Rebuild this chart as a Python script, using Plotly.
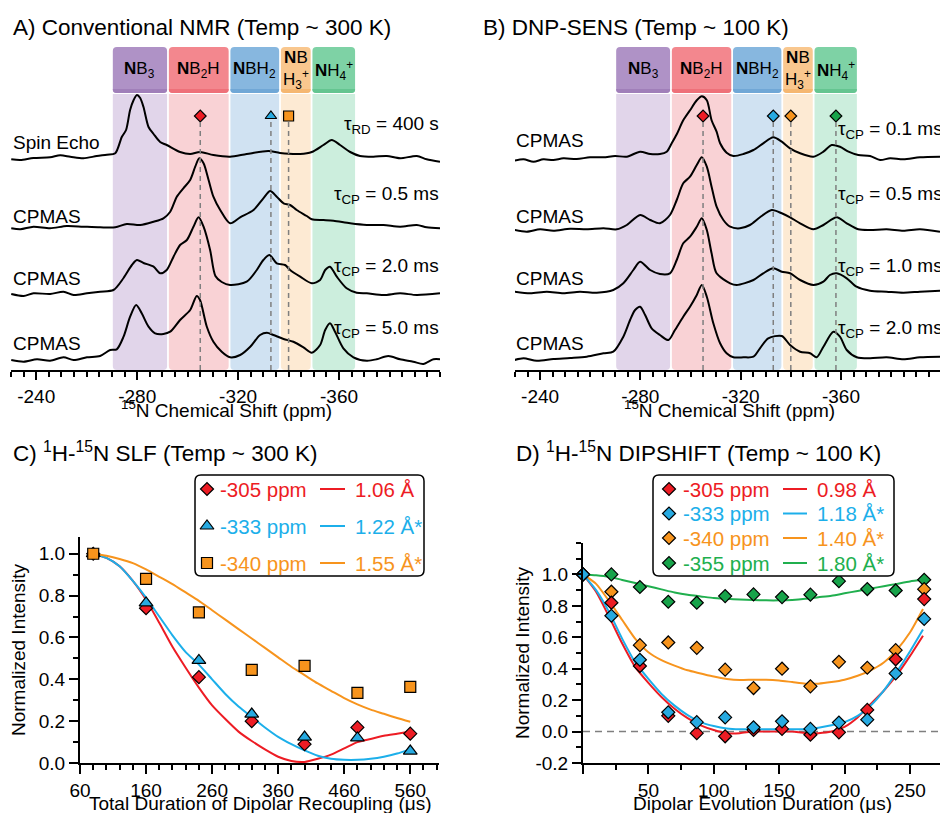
import plotly.graph_objects as go

FONT = "Liberation Sans, Arial, sans-serif"
W, H = 940, 813

RED = "#ED1C24"
BLUE_MK = "#27AAE1"
BLUE = "#1CAFEA"
ORANGE = "#F7941D"
GREEN_MK = "#17A34A"
GREEN = "#20AF4E"

# ---------------- nitrogen environments ----------------
REGION_EDGES = [-270.0, -292.2, -316.6, -336.6, -349.1, -366.7]
REGION_LABELS = ["<b>N</b>B<sub>3</sub>", "<b>N</b>B<sub>2</sub>H", "<b>N</b>BH<sub>2</sub>",
                 "<b>N</b>B<br>H<sub>3</sub><sup>+</sup>", "<b>N</b>H<sub>4</sub><sup>+</sup>"]
HEAD_FILL = ["#AF92C6", "#F3878E", "#87B7DF", "#F9C78E", "#7ED2A5"]
HEAD_EDGE = ["#A07FB9", "#EE7079", "#70A7D6", "#F5B771", "#64C590"]
BAND_FILL = ["#E1D5EA", "#F9D2D5", "#D0E2F2", "#FDEAD3", "#CCEEDD"]

A_PEAKS = [-305, -333, -340]
B_PEAKS = [-305, -333, -340, -358]
SHIFT_TICKS = [-240, -280, -320, -360]

# ---------------- panel A spectra (ppm, intensity) ----------------
A_SE_PPM = [-230.1, -233.7, -238.9, -245.5, -249.5, -253.5, -258.7, -264.0, -268.0, -271.3,
            -273.9, -275.6, -277.2, -278.6, -279.9, -281.2, -282.5, -284.5, -286.5, -289.1,
            -291.7, -297.0, -301.0, -304.9, -310.2, -316.8, -323.4, -332.0, -336.6, -344.6,
            -349.2, -353.8, -357.1, -360.4, -364.4, -368.3, -373.6, -378.9, -384.2, -390.8,
            -394.7, -400.0]
A_SE_INT = [-1.3, -2, 0, 0.7, 2.7, 1.3, -0.3, 2, 3.3, 4.7,
            21, 28, 48, 58, 63, 60, 51, 31, 24, 16,
            13, 6, 4, 6, 3, 1.3, 4, 7, 5, 4,
            6, 13, 18, 13, 6, 2, 1.3, 2, -0.3, 2,
            -1.3, -3.7]

A_CP05_PPM = [-230.1, -233.7, -238.9, -245.5, -252.1, -258.7, -265.3, -271.3, -275.9, -281.2,
              -286.5, -290.4, -293.1, -295.7, -298.3, -301.0, -303.0, -304.6, -306.3, -308.3,
              -310.2, -312.9, -316.8, -320.8, -326.1, -330.0, -332.7, -335.3, -338.0, -340.6,
              -343.2, -347.2, -349.2, -353.8, -357.8, -364.4, -371.0, -377.6, -384.2, -390.8,
              -394.7, -400.0]
A_CP05_INT = [-0.3, -1.3, 1.3, -0.3, 2, 1.3, 0.7, 0.7, 4, 3,
              6.3, 9.7, 16.3, 31.3, 39.7, 48, 61.3, 69.7, 64.7, 48,
              31.3, 18, 4.7, 10.7, 18, 29.7, 37, 31.3, 24.7, 23,
              18, 12, 8.7, 8, 7.3, 4.7, 3, 3, 1.3, 3,
              0.7, -0.3]

A_CP20_PPM = [-230.1, -235.0, -238.9, -245.5, -250.8, -254.8, -260.1, -265.3, -270.6, -274.6,
              -277.9, -279.9, -282.5, -286.5, -289.1, -291.7, -294.4, -297.0, -299.7, -302.3,
              -304.3, -306.3, -308.9, -311.0, -313.5, -316.8, -323.4, -327.4, -330.0, -332.4,
              -335.3, -338.6, -340.6, -344.6, -349.2, -352.5, -354.5, -356.4, -359.1, -363.0,
              -367.0, -371.0, -377.6, -384.2, -390.8, -400.0]
A_CP20_INT = [0, -2, 0.7, 0, 2.3, -1, 0.7, 2.3, 4, 16,
              29, 34, 31, 27.3, 20.7, 24, 37.3, 49, 54, 67.3,
              76.7, 67.3, 44, 18, 12, 9, 12.3, 24, 34, 39,
              30.7, 29, 24, 17.3, 10.7, 14, 24, 27.3, 17.3, 5.7,
              1.3, 0.7, -1, 0.7, -1, 0.7]

A_CP50_PPM = [-230.1, -235.0, -240.3, -245.5, -250.8, -254.8, -260.1, -265.3, -269.3, -271.9,
              -274.6, -277.2, -279.6, -281.8, -284.5, -287.1, -290.4, -293.1, -297.0, -301.0,
              -303.6, -304.9, -307.6, -310.2, -313.5, -316.8, -320.8, -324.8, -328.7, -331.4,
              -334.0, -338.0, -341.9, -345.9, -349.2, -352.5, -354.5, -356.4, -358.4, -361.7,
              -365.7, -371.0, -374.9, -379.5, -384.2, -389.4, -393.4, -397.4, -400.0]
A_CP50_INT = [0, -1.7, 0.7, -0.7, 2.7, 0, 2.7, 4, 10, 10.7,
              23.3, 43.3, 55, 46.7, 33.3, 26.7, 26, 28.3, 40, 50,
              64, 60, 33.3, 18.3, 8.3, 2.7, 5, 13.3, 25, 27.3,
              25, 21, 18.3, 12.7, 7.3, 15, 30, 36.7, 28.3, 11.7,
              2.7, -0.7, 0.7, 4, 0.7, -1.7, -4, 0.7, 0.7]

# ---------------- panel B spectra (ppm, intensity) ----------------
B_CP01_PPM = [-229.8, -233.4, -237.4, -241.3, -245.3, -249.3, -254.6, -259.9, -265.3, -269.9,
              -274.6, -279.9, -283.9, -287.8, -290.5, -292.5, -294.5, -297.1, -299.8, -302.5,
              -304.5, -306.5, -308.4, -310.4, -311.8, -314.4, -317.1, -321.1, -325.1, -329.0,
              -333.0, -336.4, -339.7, -343.7, -349.0, -353.0, -356.3, -359.6, -363.0, -366.9,
              -371.6, -375.6, -379.6, -384.9, -391.5, -399.5]
B_CP01_INT = [-2.4, -1, -3.4, -1, -1.7, 0, -0.7, 1, 1, 2.3,
              1.6, 6.6, 4.3, 4.3, 6.6, 15, 24, 38, 48, 58,
              62, 58, 38, 26.6, 15, 5.6, 2.3, 4.3, 8.3, 15,
              21, 16.6, 10, 5, 1.6, 6.6, 13.3, 11.6, 6.6, 3.3,
              2.3, -1.7, 0, -1, 1, 1.6]

B_CP05_PPM = [-229.8, -234.7, -240.0, -245.3, -252.0, -258.6, -265.3, -270.6, -274.6, -279.9,
              -283.9, -287.8, -291.8, -294.5, -297.1, -299.8, -302.5, -304.5, -306.5, -308.4,
              -310.4, -313.1, -315.8, -319.7, -323.7, -327.7, -332.4, -336.4, -339.7, -343.7,
              -349.0, -353.0, -358.3, -362.3, -366.9, -371.6, -378.2, -384.9, -391.5, -399.5]
B_CP05_INT = [-1, -2.7, -0.3, -1.7, 0.3, -0.3, 0.7, -0.3, 4, 14,
              9, 5.7, 14, 29, 45.7, 52.3, 64, 71.7, 62.3, 42.3,
              22.3, 9, 2.3, 0.7, 4, 11.7, 19, 15.7, 11.7, 5.7,
              -0.3, 4, 11.7, 5.7, -0.3, -1, -0.3, -1.7, -0.3, -2.7]

B_CP10_PPM = [-229.8, -236.1, -242.7, -249.3, -255.9, -262.6, -269.2, -273.2, -277.2, -279.9,
              -283.9, -287.8, -291.8, -294.5, -297.1, -299.8, -302.5, -304.5, -306.5, -308.4,
              -310.4, -315.8, -318.4, -325.1, -329.0, -333.0, -336.4, -339.7, -343.7, -349.0,
              -353.0, -355.6, -358.3, -362.3, -366.2, -371.6, -378.2, -384.9, -391.5, -399.5]
B_CP10_INT = [0.6, -1, 0.6, -1, 0.6, -0.4, 2.3, 9, 22.3, 30.6,
              22.3, 18.3, 19, 32.3, 49, 55.6, 65.6, 74, 62.3, 39,
              19, 9, 7.3, 12.3, 19, 24, 20.6, 19, 12.3, 7.3,
              10.6, 17.3, 19, 14, 5.6, 1.6, 0.6, -0.4, 0.6, 1.6]

B_CP20_PPM = [-229.8, -233.4, -238.7, -245.3, -252.0, -258.6, -265.3, -269.2, -273.2, -275.9,
              -277.9, -279.9, -281.9, -284.5, -287.8, -291.2, -293.8, -297.1, -299.8, -302.5,
              -304.5, -306.5, -309.1, -311.8, -314.4, -317.1, -321.1, -325.1, -327.7, -331.0,
              -336.4, -339.7, -343.7, -347.7, -350.3, -353.0, -357.0, -359.6, -362.3, -366.3,
              -371.6, -378.2, -384.9, -391.5, -399.5]
B_CP20_INT = [-0.7, 1, -1.4, 0.3, 1.3, 2.6, 6, 7.6, 22.6, 39.3,
              49.3, 52.6, 44.3, 31, 24.3, 19.3, 29.3, 42.6, 52.6, 64.3,
              74.3, 62.6, 36, 16, 6, 2, 2, 2.6, 11, 21,
              23.3, 14.3, 7.6, 6, 2, 12.6, 27.6, 22.6, 9.3, 2,
              1, 2, 0, 2, 2.6]

# ---------------- panel C: 1H-15N SLF ----------------
SLF_T = [80, 160, 240, 320, 400, 480, 560]
SLF_305 = [1.0, 0.74, 0.41, 0.20, 0.09, 0.17, 0.14]
SLF_333 = [1.0, 0.765, 0.49, 0.234, 0.124, 0.12, 0.057]
SLF_340 = [1.0, 0.88, 0.72, 0.445, 0.464, 0.335, 0.364]
SLF_FIT_T = [80, 100, 120, 140, 160, 180, 200, 220, 240, 260, 280, 300, 320,
             340, 360, 380, 400, 420, 440, 460, 480, 500, 520, 540, 560]
SLF_FIT_305 = [1.0, 0.98, 0.94, 0.87, 0.78, 0.67, 0.555, 0.455, 0.36, 0.275, 0.21, 0.15, 0.105,
               0.065, 0.03, 0.01, 0.005, 0.02, 0.04, 0.07, 0.10, 0.115, 0.13, 0.14, 0.15]
SLF_FIT_333 = [1.0, 0.98, 0.94, 0.87, 0.79, 0.70, 0.61, 0.53, 0.47, 0.40, 0.33, 0.27, 0.22,
               0.17, 0.125, 0.09, 0.06, 0.035, 0.02, 0.015, 0.015, 0.02, 0.03, 0.045, 0.065]
SLF_FIT_340 = [1.0, 0.99, 0.975, 0.955, 0.925, 0.89, 0.855, 0.815, 0.775, 0.73, 0.685, 0.64, 0.595,
               0.55, 0.505, 0.46, 0.42, 0.38, 0.345, 0.31, 0.28, 0.255, 0.235, 0.215, 0.197]

# ---------------- panel D: 1H-15N DIPSHIFT ----------------
DIP_T = [0, 21.7, 43.5, 65.2, 87.0, 108.7, 130.4, 152.2, 173.9, 195.7, 217.4, 239.1, 260.9]
DIP_305 = [1.0, 0.82, 0.417, 0.10, -0.01, -0.03, 0.01, 0.017, -0.02, -0.005, 0.138, 0.46, 0.843]
DIP_333 = [1.0, 0.737, 0.457, 0.123, 0.06, 0.09, 0.027, 0.065, 0.017, 0.057, 0.076, 0.37, 0.717]
DIP_340 = [1.0, 0.89, 0.55, 0.567, 0.533, 0.394, 0.277, 0.40, 0.288, 0.444, 0.406, 0.518, 0.906]
DIP_355 = [1.0, 1.0, 0.92, 0.826, 0.82, 0.862, 0.873, 0.856, 0.871, 0.957, 0.907, 0.898, 0.966]
DIP_FIT_T = [0, 10, 20, 30, 40, 50, 60, 70, 80, 90, 100, 110, 120, 130,
             140, 150, 160, 170, 180, 190, 200, 210, 220, 230, 240, 250, 260]
DIP_FIT_305 = [1.0, 0.89, 0.73, 0.56, 0.41, 0.31, 0.22, 0.145, 0.085, 0.04, 0.01, -0.01, -0.01, 0.0,
               0.0, 0.0, 0.0, -0.01, -0.01, 0.0, 0.03, 0.09, 0.175, 0.26, 0.36, 0.48, 0.61]
DIP_FIT_333 = [1.0, 0.90, 0.76, 0.59, 0.44, 0.335, 0.24, 0.165, 0.105, 0.06, 0.035, 0.02, 0.015, 0.015,
               0.015, 0.015, 0.015, 0.015, 0.025, 0.04, 0.06, 0.10, 0.165, 0.26, 0.38, 0.51, 0.65]
DIP_FIT_340 = [1.0, 0.94, 0.83, 0.71, 0.59, 0.505, 0.455, 0.42, 0.39, 0.37, 0.35, 0.335, 0.328, 0.33,
               0.33, 0.325, 0.315, 0.305, 0.305, 0.315, 0.33, 0.355, 0.39, 0.44, 0.52, 0.63, 0.78]
DIP_FIT_355 = [1.0, 0.995, 0.985, 0.965, 0.945, 0.925, 0.905, 0.885, 0.87, 0.86, 0.85, 0.845, 0.84, 0.837,
               0.835, 0.835, 0.838, 0.845, 0.855, 0.865, 0.88, 0.895, 0.91, 0.925, 0.94, 0.955, 0.967]

# ---------------- layout constants ----------------
SPEC_Y_RANGE = [0, 323]        # vertical units of the stacked-spectra panels
HEAD_Y = (277, 323)
BAND_TOP = 276
MARK_Y = 254
A_OFFSETS = [212, 142, 76, 10]
B_OFFSETS = [211.7, 141, 77.7, 10.7]

fig = go.Figure()


def rpath(x0, x1, y0, y1, rx0, ry0, rx1, ry1):
    """Rectangle path, corners at the y0 side rounded by (rx0, ry0), y1 side by (rx1, ry1)."""
    s = 1 if x1 > x0 else -1
    t = 1 if y1 > y0 else -1
    p = [f"M{x0 + s*rx0},{y0}", f"L{x1 - s*rx0},{y0}", f"Q{x1},{y0} {x1},{y0 + t*ry0}",
         f"L{x1},{y1 - t*ry1}", f"Q{x1},{y1} {x1 - s*rx1},{y1}", f"L{x0 + s*rx1},{y1}",
         f"Q{x0},{y1} {x0},{y1 - t*ry1}", f"L{x0},{y0 + t*ry0}", f"Q{x0},{y0} {x0 + s*rx0},{y0}", "Z"]
    return " ".join(p)


def note(text, x, y, size=19, xanchor="left", color="black", xref="x5", yref="y5", **kw):
    fig.add_annotation(text=text, x=x, y=y, xref=xref, yref=yref, showarrow=False,
                       xanchor=xanchor, yanchor="middle", align=xanchor if xanchor != "center" else "center",
                       borderpad=0, font=dict(family=FONT, size=size, color=color), **kw)


def spectrum_panel(xr, yr, spectra, offsets, peaks, peak_symbols, peak_colors):
    for i in range(5):
        left = REGION_EDGES[i] - 0.35
        right = REGION_EDGES[i + 1] + 0.35
        fig.add_shape(type="path", xref=xr, yref=yr, layer="below", line_width=0,
                      fillcolor=BAND_FILL[i],
                      path=rpath(left, right, 0, BAND_TOP, 1.6, 4, 0, 0))
        fig.add_shape(type="path", xref=xr, yref=yr, layer="below", line_width=0,
                      fillcolor=HEAD_FILL[i],
                      path=rpath(left, right, HEAD_Y[0], HEAD_Y[1], 1.6, 4, 1.6, 4))
        fig.add_shape(type="path", xref=xr, yref=yr, layer="below", line_width=0,
                      fillcolor=HEAD_EDGE[i],
                      path=rpath(left, right, HEAD_Y[0], HEAD_Y[0] + 4, 1.6, 3, 0, 0))
        note(REGION_LABELS[i], (REGION_EDGES[i] + REGION_EDGES[i + 1]) / 2,
             (HEAD_Y[0] + HEAD_Y[1]) / 2, size=17, xanchor="center", xref=xr, yref=yr)
    for p in peaks:
        fig.add_shape(type="line", xref=xr, yref=yr, x0=p, x1=p, y0=0, y1=MARK_Y - 6,
                      line=dict(color="#7F7F7F", width=1.5, dash="5px,4px"), layer="above")
    for (ppm, inten), off in zip(spectra, offsets):
        fig.add_trace(go.Scatter(x=ppm, y=[off + v for v in inten], mode="lines",
                                 line=dict(color="black", width=2, shape="spline", smoothing=0.8),
                                 xaxis=xr, yaxis=yr, showlegend=False, hoverinfo="skip"))
    for p, sym, col in zip(peaks, peak_symbols, peak_colors):
        fig.add_trace(go.Scatter(x=[p], y=[MARK_Y], mode="markers", xaxis=xr, yaxis=yr,
                                 marker=dict(symbol=sym, size=10 if sym != "diamond" else 9,
                                             color=col, line=dict(color="black", width=1.2)),
                                 showlegend=False, hoverinfo="skip", cliponaxis=False))


spectrum_panel("x", "y",
               [(A_SE_PPM, A_SE_INT), (A_CP05_PPM, A_CP05_INT), (A_CP20_PPM, A_CP20_INT), (A_CP50_PPM, A_CP50_INT)],
               A_OFFSETS, A_PEAKS, ["diamond", "triangle-up", "square"], [RED, BLUE_MK, ORANGE])
spectrum_panel("x2", "y2",
               [(B_CP01_PPM, B_CP01_INT), (B_CP05_PPM, B_CP05_INT), (B_CP10_PPM, B_CP10_INT), (B_CP20_PPM, B_CP20_INT)],
               B_OFFSETS, B_PEAKS, ["diamond"] * 4, [RED, BLUE_MK, ORANGE, GREEN_MK])

# ---------------- panel C traces ----------------
for fx, col in [(SLF_FIT_305, RED), (SLF_FIT_333, BLUE), (SLF_FIT_340, ORANGE)]:
    fig.add_trace(go.Scatter(x=SLF_FIT_T, y=fx, mode="lines", xaxis="x3", yaxis="y3",
                             line=dict(color=col, width=2, shape="spline", smoothing=0.6),
                             showlegend=False, hoverinfo="skip"))
for ys, sym, col, sz in [(SLF_305, "diamond", RED, 10), (SLF_333, "triangle-up", BLUE_MK, 12),
                         (SLF_340, "square", ORANGE, 11)]:
    fig.add_trace(go.Scatter(x=SLF_T, y=ys, mode="markers", xaxis="x3", yaxis="y3", cliponaxis=False,
                             marker=dict(symbol=sym, size=sz, color=col, line=dict(color="black", width=1.2)),
                             showlegend=False, hoverinfo="skip"))

# ---------------- panel D traces ----------------
fig.add_shape(type="line", xref="x4", yref="y4", x0=0, x1=273, y0=0, y1=0,
              line=dict(color="#7F7F7F", width=1.5, dash="7px,5px"), layer="below")
for fx, col in [(DIP_FIT_355, GREEN), (DIP_FIT_340, ORANGE), (DIP_FIT_305, RED), (DIP_FIT_333, BLUE)]:
    fig.add_trace(go.Scatter(x=DIP_FIT_T, y=fx, mode="lines", xaxis="x4", yaxis="y4",
                             line=dict(color=col, width=2, shape="spline", smoothing=0.6),
                             showlegend=False, hoverinfo="skip"))
for ys, col in [(DIP_355, GREEN_MK), (DIP_340, ORANGE), (DIP_305, RED), (DIP_333, BLUE_MK)]:
    fig.add_trace(go.Scatter(x=DIP_T, y=ys, mode="markers", xaxis="x4", yaxis="y4", cliponaxis=False,
                             marker=dict(symbol="diamond", size=10, color=col, line=dict(color="black", width=1.2)),
                             showlegend=False, hoverinfo="skip"))

# ---------------- legends (page pixel frame) ----------------
LEG_C = [("-305 ppm", "1.06 Å", RED, "diamond", RED, 10),
         ("-333 ppm", "1.22 Å*", BLUE, "triangle-up", BLUE_MK, 12),
         ("-340 ppm", "1.55 Å*", ORANGE, "square", ORANGE, 11)]
LEG_D = [("-305 ppm", "0.98 Å", RED, "diamond", RED, 10),
         ("-333 ppm", "1.18 Å*", BLUE, "diamond", BLUE_MK, 10),
         ("-340 ppm", "1.40 Å*", ORANGE, "diamond", ORANGE, 10),
         ("-355 ppm", "1.80 Å*", GREEN, "diamond", GREEN_MK, 10)]


def legend_box(x0, x1, y0, y1, rows, row_y, mx, tx, lx0, lx1, vx):
    fig.add_shape(type="path", xref="x5", yref="y5", layer="below", fillcolor="white",
                  line=dict(color="black", width=1.5), path=rpath(x0, x1, y1, y0, 6, 6, 6, 6))
    for (name, val, tcol, sym, mcol, sz), y in zip(rows, row_y):
        fig.add_trace(go.Scatter(x=[mx], y=[y], mode="markers", xaxis="x5", yaxis="y5",
                                 marker=dict(symbol=sym, size=sz, color=mcol, line=dict(color="black", width=1.2)),
                                 showlegend=False, hoverinfo="skip"))
        note(name, tx, y, size=20.5, color=tcol)
        fig.add_shape(type="line", xref="x5", yref="y5", x0=lx0, x1=lx1, y0=y, y1=y,
                      line=dict(color=tcol, width=2))
        note(val, vx, y, size=20.5, color=tcol)


legend_box(195, 424, 475, 576, LEG_C, [489, 526, 563], 207, 219, 320, 345, 354)
legend_box(653, 894, 475, 576, LEG_D, [489, 513.5, 538, 563], 669, 682, 783, 807, 816)

# ---------------- text ----------------
note("A) Conventional NMR (Temp ~ 300 K)", 12, 27, size=22.5)
note("B) DNP-SENS (Temp ~ 100 K)", 482, 27, size=22.5)
note("C) <sup>1</sup>H-<sup>15</sup>N SLF (Temp ~ 300 K)", 12, 452, size=22.5)
note("D) <sup>1</sup>H-<sup>15</sup>N DIPSHIFT (Temp ~ 100 K)", 515, 452, size=22.5)

for label, y in [("Spin Echo", 142), ("CPMAS", 216), ("CPMAS", 278), ("CPMAS", 343)]:
    note(label, 12, y)
for label, y in [("τ<sub>RD</sub> = 400 s", 125), ("τ<sub>CP</sub> = 0.5 ms", 195),
                 ("τ<sub>CP</sub> = 2.0 ms", 267), ("τ<sub>CP</sub> = 5.0 ms", 329)]:
    note(label, 440, y, xanchor="right")
for y in [140, 216, 278, 343]:
    note("CPMAS", 515, y)
for label, y in [("τ<sub>CP</sub> = 0.1 ms", 130), ("τ<sub>CP</sub> = 0.5 ms", 195),
                 ("τ<sub>CP</sub> = 1.0 ms", 267), ("τ<sub>CP</sub> = 2.0 ms", 329)]:
    note(label, 837, y)

note("<sup>15</sup>N Chemical Shift (ppm)", 226, 409, xanchor="center")
note("<sup>15</sup>N Chemical Shift (ppm)", 729, 409, xanchor="center")
note("Total Duration of Dipolar Recoupling (μs)", 260, 803, xanchor="center")
note("Dipolar Evolution Duration (μs)", 762, 803, xanchor="center")
note("Normalized Intensity", 18, 650, xanchor="center", textangle=-90)
note("Normalized Intensity", 522, 653, xanchor="center", textangle=-90)

# ---------------- axes ----------------
tickfont = dict(family=FONT, size=19, color="black")


def axis_style(major_len):
    return dict(showgrid=False, zeroline=False, showline=True, linecolor="black", linewidth=2,
                ticks="outside", tickcolor="black", tickwidth=1.5, ticklen=major_len, tickfont=tickfont,
                automargin=False)


def minor(d, t0):
    return dict(dtick=d, tick0=t0, ticks="outside", ticklen=5, tickwidth=1.5, tickcolor="black", showgrid=False)


shift_text = [str(v) for v in SHIFT_TICKS]
spec_bottom, spec_top = 1 - 370 / H, 1 - 47 / H
fig.update_layout(
    width=W, height=H, margin=dict(l=0, r=0, t=0, b=0, pad=0, autoexpand=False),
    paper_bgcolor="white", plot_bgcolor="rgba(0,0,0,0)", showlegend=False,
    font=dict(family=FONT, color="black"),
    xaxis=dict(domain=[11 / W, 440 / W], range=[-230, -400], anchor="y", tickmode="array",
               tickvals=SHIFT_TICKS, ticktext=shift_text, minor=minor(5, -240), **axis_style(8)),
    yaxis=dict(domain=[spec_bottom, spec_top], range=SPEC_Y_RANGE, anchor="x", visible=False),
    xaxis2=dict(domain=[515 / W, 1.0], range=[-230, -399.5], anchor="y2", tickmode="array",
                tickvals=SHIFT_TICKS, ticktext=shift_text, minor=minor(5, -240), **axis_style(8)),
    yaxis2=dict(domain=[spec_bottom, spec_top], range=SPEC_Y_RANGE, anchor="x2", visible=False),
    xaxis3=dict(domain=[80 / W, 439 / W], range=[60, 603.5], anchor="y3", tickmode="array",
                tickvals=[60, 160, 260, 360, 460, 560], ticktext=["60", "160", "260", "360", "460", "560"],
                minor=minor(20, 60), **axis_style(9)),
    yaxis3=dict(domain=[1 - 763 / H, 1 - 537 / H], range=[0, 1.08], anchor="x3", tickmode="array",
                tickvals=[0, 0.2, 0.4, 0.6, 0.8, 1.0], ticktext=["0.0", "0.2", "0.4", "0.6", "0.8", "1.0"],
                minor=minor(0.1, 0), **axis_style(9)),
    xaxis4=dict(domain=[583 / W, 1.0], range=[0, 273], anchor="y4", tickmode="array",
                tickvals=[0, 50, 100, 150, 200, 250], ticktext=["", "50", "100", "150", "200", "250"],
                minor=minor(25, 0), **axis_style(9)),
    yaxis4=dict(domain=[1 - 763 / H, 1 - 543 / H], range=[-0.2, 1.2], anchor="x4", tickmode="array",
                tickvals=[-0.2, 0, 0.2, 0.4, 0.6, 0.8, 1.0],
                ticktext=["-0.2", "0.0", "0.2", "0.4", "0.6", "0.8", "1.0"],
                minor=minor(0.1, 0), **axis_style(9)),
    xaxis5=dict(domain=[0, 1], range=[0, W], anchor="y5", visible=False, fixedrange=True),
    yaxis5=dict(domain=[0, 1], range=[H, 0], anchor="x5", visible=False, fixedrange=True),
)

fig.write_html("out.html")
